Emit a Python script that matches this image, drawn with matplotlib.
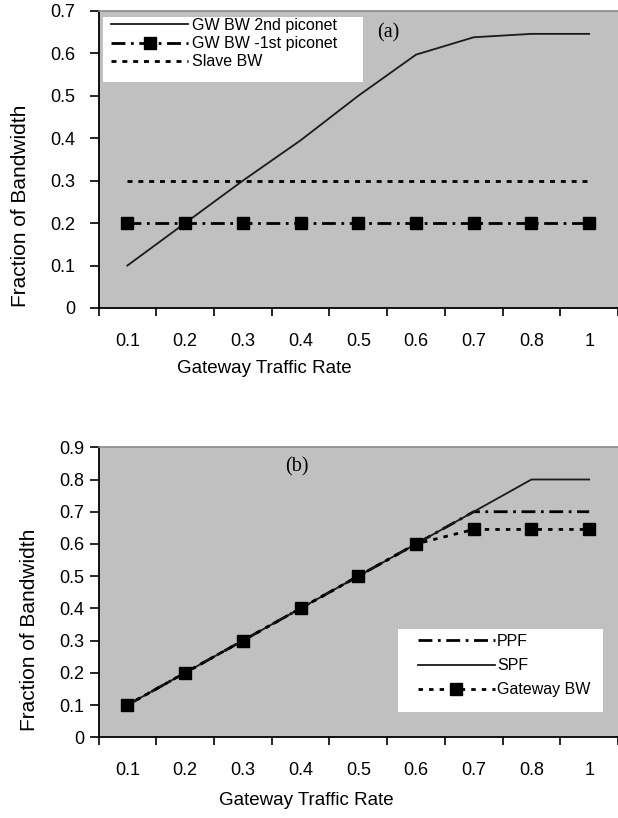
import matplotlib
matplotlib.use("Agg")
import matplotlib.pyplot as plt
from matplotlib.patches import Rectangle
import numpy as np

plt.rcParams['font.family'] = ['Liberation Sans', 'DejaVu Sans']

# categories on the x axis (Excel-style category axis)
rates = ["0.1", "0.2", "0.3", "0.4", "0.5", "0.6", "0.7", "0.8", "1"]

# panel (a)
gw_2nd = [0.10, 0.20, 0.30, 0.395, 0.50, 0.597, 0.638, 0.646, 0.646]
gw_1st = [0.20, 0.20, 0.20, 0.20, 0.20, 0.20, 0.20, 0.20, 0.20]
slave_bw = [0.30, 0.30, 0.30, 0.30, 0.30, 0.30, 0.30, 0.30, 0.30]

# panel (b)
ppf = [0.10, 0.20, 0.30, 0.40, 0.50, 0.60, 0.70, 0.70, 0.70]
spf = [0.10, 0.20, 0.30, 0.40, 0.50, 0.60, 0.70, 0.80, 0.80]
gateway_bw = [0.10, 0.20, 0.30, 0.40, 0.50, 0.60, 0.645, 0.645, 0.645]

GRAY = "#c0c0c0"


def style_axes(ax, ymax, ylabel_x, ylabel_y, xlabel_x, xlabel_y, ypad):
    n = len(rates)
    ax.set_facecolor(GRAY)
    ax.set_xlim(-0.5, n - 0.5)
    ax.set_ylim(0, ymax)
    ax.set_yticks(np.arange(0, ymax + 0.001, 0.1))
    ax.set_yticklabels(["0"] + ["%.1f" % v for v in np.arange(0.1, ymax + 0.001, 0.1)])
    # ticks between categories, labels at category centres
    ax.set_xticks(np.arange(-0.5, n, 1))
    ax.set_xticklabels([])
    ax.set_xticks(np.arange(n), minor=True)
    ax.set_xticklabels(rates, minor=True)
    ax.tick_params(axis="x", which="major", direction="out", length=6, width=1.2)
    ax.tick_params(axis="x", which="minor", length=0, pad=18, labelsize=13)
    ax.tick_params(axis="y", direction="out", length=6.5, width=1.2, pad=ypad, labelsize=13)
    for s in ("left", "bottom"):
        ax.spines[s].set_color("black")
        ax.spines[s].set_linewidth(1.3)
    ax.spines["top"].set_color("#8a8a8a")
    ax.spines["top"].set_linewidth(1.2)
    ax.spines["right"].set_visible(False)
    ax.set_ylabel("Fraction of Bandwidth", fontsize=15)
    ax.yaxis.set_label_coords(ylabel_x, ylabel_y)
    ax.yaxis.label.set_va("center")
    ax.set_xlabel("Gateway Traffic Rate", fontsize=13.5)
    ax.xaxis.set_label_coords(xlabel_x, xlabel_y)
    ax.xaxis.label.set_va("center")


fig = plt.figure(figsize=(6.18, 8.18), dpi=100)
x = np.arange(len(rates))

# ---- panel (a)
ax1 = fig.add_axes([0.1594, 0.6235, 0.8406, 0.3631])
style_axes(ax1, 0.7, -0.151, 0.343, 0.32, -0.205, 10.5)
ax1.plot(x, gw_2nd, color="#1a1a1a", lw=1.3, label="GW BW 2nd piconet")
ax1.plot(x, gw_1st, color="black", lw=2, dashes=(5, 2, 1, 2), marker="s",
         markersize=8, label="GW BW -1st piconet")
ax1.plot(x, slave_bw, color="black", lw=2, dashes=(1.8, 2.1), label="Slave BW")
ax1.add_patch(Rectangle((0.0096, 0.762), 0.4988, 0.2168, transform=ax1.transAxes,
                        facecolor="white", edgecolor="none", zorder=3))
ax1.legend(loc="upper left", bbox_to_anchor=(0.025, 0.976), frameon=False,
           fontsize=11.5, borderpad=0, borderaxespad=0, handlelength=4.8,
           handletextpad=0.25, labelspacing=0.2)
ax1.text(0.557, 0.926, "(a)", transform=ax1.transAxes, ha="center", va="center",
         fontsize=14.5, family="Liberation Serif")

# ---- panel (b)
ax2 = fig.add_axes([0.1594, 0.0987, 0.8406, 0.3545])
style_axes(ax2, 0.9, -0.133, 0.372, 0.40, -0.217, 3.5)
ax2.plot(x, ppf, color="black", lw=2, dashes=(5, 2, 1, 2), label="PPF")
ax2.plot(x, spf, color="#1a1a1a", lw=1.3, label="SPF")
ax2.plot(x, gateway_bw, color="black", lw=2, dashes=(1.6, 2.2), marker="s",
         markersize=8, label="Gateway BW")
ax2.add_patch(Rectangle((0.5765, 0.0862), 0.3945, 0.2862, transform=ax2.transAxes,
                        facecolor="white", edgecolor="none", zorder=3))
ax2.legend(loc="upper left", bbox_to_anchor=(0.615, 0.356), frameon=False,
           fontsize=11.5, borderpad=0, borderaxespad=0, handlelength=4.8,
           handletextpad=0.15, labelspacing=0.57)
ax2.text(0.381, 0.934, "(b)", transform=ax2.transAxes, ha="center", va="center",
         fontsize=14.5, family="Liberation Serif")

fig.savefig("out.png", dpi=100, facecolor="white")
